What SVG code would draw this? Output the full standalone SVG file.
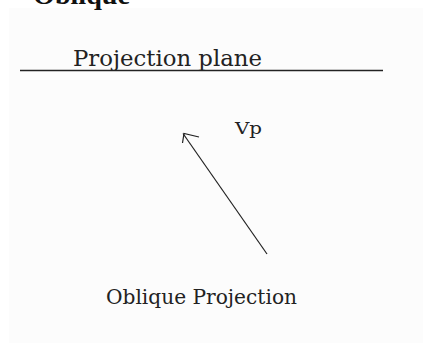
<svg xmlns="http://www.w3.org/2000/svg" width="423" height="343" viewBox="0 0 423 343">
  <style>
    .lbl { font-family: "DejaVu Serif", "Liberation Serif", serif; fill: #222; }
    .title { font-family: "Liberation Serif", serif; font-weight: bold; fill: #111; }
    .ln { stroke: #222; fill: none; }
  </style>
  <rect x="0" y="0" width="423" height="343" fill="#ffffff"/>
  <rect x="9" y="8" width="414" height="335" fill="#fcfcfc"/>
  <text class="title" x="33" y="4" font-size="28" textLength="97" lengthAdjust="spacingAndGlyphs">Oblique</text>
  <g id="plane">
    <line class="ln" x1="20" y1="70.5" x2="383" y2="70.5" stroke-width="1.6" stroke="#333"/>
    <text class="lbl" x="73" y="66" font-size="22" textLength="189" lengthAdjust="spacingAndGlyphs">Projection plane</text>
  </g>
  <g id="connectors">
    <path class="ln" d="M267 254 L183 133.5" stroke-width="1.2"/>
    <path class="ln" d="M199 137 L184 133.5 L182.5 143" stroke-width="1.2"/>
  </g>
  <g id="vp">
    <text class="lbl" x="235" y="134" font-size="17" textLength="27" lengthAdjust="spacingAndGlyphs">Vp</text>
  </g>
  <g id="caption">
    <text class="lbl" x="106" y="304" font-size="20" textLength="191" lengthAdjust="spacingAndGlyphs">Oblique Projection</text>
  </g>
</svg>
